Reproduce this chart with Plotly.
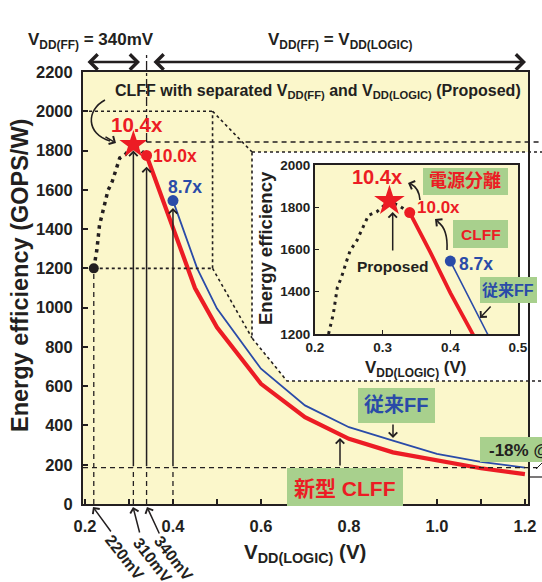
import plotly.graph_objects as go

# ---------------- data ----------------
vdd_clff = [0.34, 0.37, 0.40, 0.433, 0.45, 0.50, 0.60, 0.70, 0.80, 0.90, 1.00, 1.10, 1.20]
eff_clff = [1775, 1590, 1395, 1200, 1100, 900, 612, 442, 332, 263, 221, 182, 152]

vdd_conv = [0.40, 0.43, 0.455, 0.50, 0.60, 0.70, 0.80, 0.90, 1.00, 1.10, 1.20]
eff_conv = [1545, 1355, 1200, 995, 689, 502, 391, 323, 255, 215, 185]

vdd_prop = [0.22, 0.227, 0.233, 0.239, 0.247, 0.252, 0.262, 0.271, 0.279, 0.291, 0.31, 0.325, 0.34]
eff_prop = [1200, 1294, 1420, 1468, 1548, 1595, 1643, 1706, 1762, 1778, 1830, 1805, 1775]

x_ticks = [0.2, 0.3, 0.4, 0.5, 0.6, 0.7, 0.8, 0.9, 1.0, 1.1, 1.2]
x_tick_text = ["0.2", "", "0.4", "", "0.6", "", "0.8", "", "1.0", "", "1.2"]
y_ticks = [0, 200, 400, 600, 800, 1000, 1200, 1400, 1600, 1800, 2000, 2200]
inset_x_ticks = [0.2, 0.3, 0.4, 0.5]
inset_x_text = ["0.2", "0.3", "0.4", "0.5"]
inset_y_ticks = [1200, 1400, 1600, 1800, 2000]

ref_volts = [0.22, 0.31, 0.34]
ref_labels = ["220mV", "310mV", "340mV"]
gain_labels = ["10.4x", "10.0x", "8.7x"]
blue_end_level = 185
zoom_box = [0.49, 1200, 2000]

# ---------------- style ----------------
W, H = 542, 582
ML, MR, MT, MB = 83, 14, 72, 78
PW, PH = W - ML - MR, H - MT - MB
XR = [0.1955, 1.207]
YR = [0, 2200]
RED = "#EC1C24"
BLUE = "#2A4BA8"
BLACK = "#231F20"
YEL = "#FBF7CB"
GREEN = "#A8D08D"
FONT = "Liberation Sans, Arial, Noto Sans CJK JP, sans-serif"


def px(x):
    return (x - ML) / PW


def py(y):
    return (H - MB - y) / PH


def xp(v):
    return (v - XR[0]) / (XR[1] - XR[0])


def yp(v):
    return (v - YR[0]) / (YR[1] - YR[0])


ip = eff_prop.index(max(eff_prop))

fig = go.Figure()

# ---------- main traces ----------
fig.add_trace(go.Scatter(x=vdd_conv, y=eff_conv, mode="lines",
                         line=dict(color=BLUE, width=1.8)))
fig.add_trace(go.Scatter(x=vdd_clff, y=eff_clff, mode="lines",
                         line=dict(color=RED, width=4.2)))
fig.add_trace(go.Scatter(x=vdd_prop, y=eff_prop, mode="lines",
                         line=dict(color=BLACK, width=3.5, dash="3.5px,4.5px")))
fig.add_trace(go.Scatter(x=[vdd_prop[0]], y=[eff_prop[0]], mode="markers",
                         marker=dict(color=BLACK, size=10)))
fig.add_trace(go.Scatter(x=[vdd_clff[0]], y=[eff_clff[0]], mode="markers",
                         marker=dict(color=RED, size=11)))
fig.add_trace(go.Scatter(x=[vdd_conv[0]], y=[eff_conv[0]], mode="markers",
                         marker=dict(color=BLUE, size=11)))
fig.add_trace(go.Scatter(x=[vdd_prop[ip]], y=[eff_prop[ip]], mode="markers",
                         marker=dict(color=RED, size=21, symbol="star")))

# ---------- inset traces ----------
fig.add_trace(go.Scatter(x=vdd_conv, y=eff_conv, mode="lines", xaxis="x2", yaxis="y2",
                         line=dict(color=BLUE, width=1.6)))
fig.add_trace(go.Scatter(x=vdd_clff, y=eff_clff, mode="lines", xaxis="x2", yaxis="y2",
                         line=dict(color=RED, width=3.8)))
fig.add_trace(go.Scatter(x=vdd_prop, y=eff_prop, mode="lines", xaxis="x2", yaxis="y2",
                         line=dict(color=BLACK, width=3, dash="3px,4.5px")))
fig.add_trace(go.Scatter(x=[vdd_clff[0]], y=[eff_clff[0]], mode="markers", xaxis="x2", yaxis="y2",
                         marker=dict(color=RED, size=11)))
fig.add_trace(go.Scatter(x=[vdd_conv[0]], y=[eff_conv[0]], mode="markers", xaxis="x2", yaxis="y2",
                         marker=dict(color=BLUE, size=11)))
fig.add_trace(go.Scatter(x=[vdd_prop[ip]], y=[eff_prop[ip]], mode="markers", xaxis="x2", yaxis="y2",
                         marker=dict(color=RED, size=23, symbol="star")))

# ---------- shapes ----------
shapes = []
# backgrounds
shapes.append(dict(type="rect", xref="paper", yref="paper", x0=0, x1=1, y0=0, y1=1,
                   fillcolor=YEL, line=dict(width=0), layer="below"))
box_path = (f"M {px(252)},{py(152)} L {px(600)},{py(152)} L {px(600)},{py(381)} "
            f"L {px(287)},{py(381)} L {px(252)},{py(338)} Z")
shapes.append(dict(type="path", xref="paper", yref="paper", path=box_path,
                   fillcolor="white", line=dict(color=BLACK, width=1.6, dash="dot"), layer="below"))
ix0, ix1, iy0, iy1 = px(315), px(518), py(334), py(165)
shapes.append(dict(type="rect", xref="paper", yref="paper", x0=ix0, x1=ix1, y0=iy0, y1=iy1,
                   fillcolor=YEL, line=dict(width=0), layer="below"))

dot = dict(color=BLACK, width=1.6, dash="dot")
dash = dict(color=BLACK, width=1.3, dash="5px,4px")
# zoom rectangle
zx, zy0, zy1 = zoom_box
shapes.append(dict(type="line", xref="x", yref="y", x0=XR[0], x1=zx, y0=zy1, y1=zy1, line=dot))
shapes.append(dict(type="line", xref="x", yref="y", x0=vdd_prop[0], x1=zx, y0=zy0, y1=zy0, line=dot))
shapes.append(dict(type="line", xref="x", yref="y", x0=zx, x1=zx, y0=zy0, y1=zy1, line=dot))
shapes.append(dict(type="line", xref="paper", yref="paper", x0=xp(zx), y0=yp(zy1),
                   x1=px(252), y1=py(152), line=dot))
shapes.append(dict(type="line", xref="paper", yref="paper", x0=xp(zx), y0=yp(zy0),
                   x1=px(252), y1=py(338), line=dot))

# reference dashed lines
shapes.append(dict(type="line", xref="paper", yref="y", x0=0, x1=px(538),
                   y0=blue_end_level, y1=blue_end_level, line=dash))
shapes.append(dict(type="line", xref="x", yref="y", x0=vdd_prop[0], x1=vdd_prop[0],
                   y0=0, y1=eff_prop[0], line=dash))
for v in ref_volts[1:] + [vdd_conv[0]]:
    shapes.append(dict(type="line", xref="x", yref="y", x0=v, x1=v, y0=0,
                       y1=blue_end_level, line=dash))
# 340mV divider (dash-dot) and peak level dashed line
shapes.append(dict(type="line", xref="paper", yref="paper", x0=xp(vdd_clff[0]), x1=xp(vdd_clff[0]),
                   y0=py(142), y1=py(54), line=dict(color=BLACK, width=1.3, dash="dashdot")))
shapes.append(dict(type="line", xref="paper", yref="paper", x0=xp(vdd_clff[0]), x1=px(560),
                   y0=py(142), y1=py(142), line=dash))

# green label boxes
for (a, b, c, d) in [(358, 388, 435, 423), (287, 468, 403, 506), (480, 437, 600, 462),
                     (423, 168, 508, 195), (453, 220, 508, 248), (480, 277, 537, 303)]:
    shapes.append(dict(type="rect", xref="paper", yref="paper", x0=px(a), x1=px(c),
                       y0=py(d), y1=py(b), fillcolor=GREEN, line=dict(width=0), layer="above"))

# curved arrows
shapes.append(dict(type="path", xref="paper", yref="paper",
                   path=f"M {px(105)},{py(100)} C {px(86)},{py(110)} {px(86)},{py(134)} {px(110)},{py(141)}",
                   line=dict(color=BLACK, width=1.6)))
shapes.append(dict(type="path", xref="paper", yref="paper",
                   path=f"M {px(447)},{py(250)} Q {px(448)},{py(229)} {px(438)},{py(222)}",
                   line=dict(color=BLACK, width=1.6)))
shapes.append(dict(type="path", xref="paper", yref="paper",
                   path=f"M {px(420)},{py(200)} Q {px(419)},{py(188)} {px(411)},{py(184)}",
                   line=dict(color=BLACK, width=1.6)))
# tiny marks at right edge
shapes.append(dict(type="line", xref="paper", yref="paper", x0=px(530), x1=px(545),
                   y0=py(477), y1=py(477), line=dict(color=BLACK, width=1.2)))
shapes.append(dict(type="line", xref="paper", yref="paper", x0=px(536), x1=px(543),
                   y0=py(469), y1=py(462), line=dict(color=BLACK, width=1.0)))

# ---------- annotations ----------
ann = []


def txt(x, y, s, size, color=BLACK, angle=0, xanchor="center"):
    ann.append(dict(x=px(x), y=py(y), xref="paper", yref="paper", text=s, showarrow=False,
                    font=dict(family=FONT, size=size, color=color, weight="bold"),
                    textangle=angle, xanchor=xanchor, yanchor="middle"))


def arrow(x0, y0, x1, y1, width=1.5, head=4, side="end", size=1.0):
    ann.append(dict(x=px(x1), y=py(y1), xref="paper", yref="paper", ax=x0 - x1, ay=y0 - y1,
                    axref="pixel", ayref="pixel", text="", showarrow=True, arrowhead=head,
                    startarrowhead=head, arrowside=side, arrowwidth=width, arrowsize=size,
                    startarrowsize=size, arrowcolor=BLACK, standoff=0, startstandoff=0))


# header
txt(91, 41, "V<sub>DD(FF)</sub> = 340mV", 17)
txt(340, 41, "V<sub>DD(FF)</sub> = V<sub>DD(LOGIC)</sub>", 17)
arrow(86, 62, 140, 62, width=2.4, head=4, side="end+start", size=1.25)
arrow(152, 62, 526, 62, width=2.4, head=4, side="end+start", size=1.25)

txt(113, 91, "CLFF with separated V<sub>DD(FF)</sub> and V<sub>DD(LOGIC)</sub> (Proposed)", 16,
    xanchor="left")
arrow(104, 136, 116, 143, width=1.6, head=4, size=1.1)

# gains main
txt(137, 124, gain_labels[0], 20.5, RED)
txt(175, 156, gain_labels[1], 17.5, RED)
txt(185, 187, gain_labels[2], 17.5, BLUE)

# vertical arrows to markers (data coords)
for v, tip in [(vdd_prop[ip], 1800), (vdd_clff[0], 1718), (vdd_conv[0], 1507)]:
    ann.append(dict(x=v, y=tip, xref="x", yref="y", ax=v, ay=blue_end_level, axref="x", ayref="y",
                    text="", showarrow=True, arrowhead=4, arrowwidth=1.5, arrowsize=1.1,
                    arrowcolor=BLACK, standoff=0))

# green boxes text
txt(396, 405, "従来FF", 20, BLUE)
arrow(393, 423, 393, 438, width=1.5, size=1.1)
txt(345, 488, "新型 CLFF", 21, RED)
arrow(340, 467, 340, 438, width=1.5, size=1.1)
txt(487, 450, "-18% @ 1.2V", 17, BLACK, xanchor="left")

# inset texts
txt(377, 177, gain_labels[0], 20, RED)
txt(438, 208, gain_labels[1], 17, RED)
txt(476, 264, gain_labels[2], 17.5, BLUE)
txt(392, 266, "Proposed", 15.5, BLACK)
arrow(392.7, 252, 392.7, 212, width=1.5, size=1.1)
txt(465, 181, "電源分離", 18, RED)
txt(481, 234, "CLFF", 15.5, RED)
txt(508, 290, "従来FF", 16, BLUE)
arrow(492, 305, 480, 318, width=1.5, size=1.1)
arrow(440, 223, 435, 219, width=1.6, size=1.1)
arrow(413, 185, 408, 183, width=1.6, size=1.1)
txt(265, 248, "Energy efficiency", 18.5, BLACK, angle=-90)
txt(415, 369, "V<sub>DD(LOGIC)</sub> (V)", 17)

# main axis titles
txt(20, 276, "Energy efficiency (GOPS/W)", 23.5, BLACK, angle=-90)
txt(305, 553, "V<sub>DD(LOGIC)</sub> (V)", 20.5)

# rotated voltage labels
for (cx, cy), lab in zip([(125, 557), (153, 560), (174, 558)], ref_labels):
    txt(cx, cy, lab, 16, BLACK, angle=52)
arrow(112, 533, 93, 507, width=1.5, size=1.1)
arrow(140, 534, 133, 507, width=1.5, size=1.1)
arrow(160, 535, 147, 507, width=1.5, size=1.1)

tickfont = dict(family=FONT, size=16.5, color=BLACK, weight="bold")
itickfont = dict(family=FONT, size=13.5, color=BLACK, weight="bold")
axis_common = dict(showline=True, mirror=True, linecolor=BLACK, linewidth=2, showgrid=False,
                   zeroline=False, ticks="inside", tickcolor=BLACK, automargin=False)

fig.update_layout(
    width=W, height=H, autosize=False,
    margin=dict(l=ML, r=MR, t=MT, b=MB, pad=0),
    paper_bgcolor="white", plot_bgcolor="rgba(0,0,0,0)",
    showlegend=False,
    xaxis=dict(domain=[0, 1], range=XR, tickvals=x_ticks, ticktext=x_tick_text,
               ticklen=5, tickwidth=1.5, tickfont=tickfont, ticklabelstandoff=6, **axis_common),
    yaxis=dict(domain=[0, 1], range=YR, tickvals=y_ticks, ticklen=5, tickwidth=1.5,
               tickfont=tickfont, ticklabelstandoff=5, **axis_common),
    xaxis2=dict(domain=[ix0, ix1], anchor="y2", range=[0.2, 0.5], tickvals=inset_x_ticks,
                ticktext=inset_x_text, ticklen=4, tickwidth=1.2, tickfont=itickfont, **axis_common),
    yaxis2=dict(domain=[iy0, iy1], anchor="x2", range=[1200, 2000], tickvals=inset_y_ticks,
                ticklen=4, tickwidth=1.2, tickfont=itickfont, **axis_common),
    shapes=shapes,
    annotations=ann,
)

fig.write_html("out.html", config={"displayModeBar": False},
               post_script="document.body.style.margin='0';document.body.style.overflow='hidden';")
